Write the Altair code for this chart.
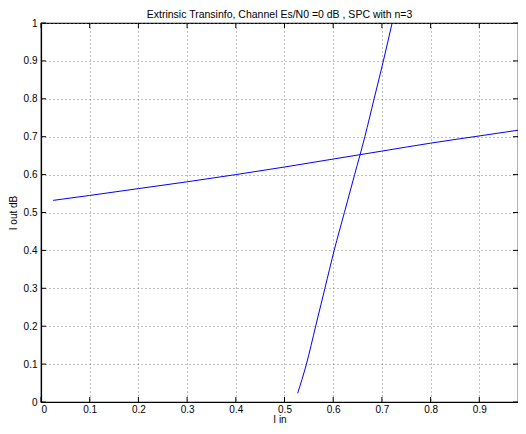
import altair as alt
import pandas as pd

# Data
c1_x = [0.025, 0.1, 0.2, 0.3, 0.4, 0.5, 0.6, 0.7, 0.8, 0.9, 1.0]
c1_y = [0.532, 0.545, 0.563, 0.581, 0.600, 0.620, 0.641, 0.662, 0.683, 0.702, 0.721]

c2_x = [0.527, 0.545, 0.564, 0.583, 0.602, 0.623, 0.644, 0.665, 0.684, 0.703, 0.721, 0.73]
c2_y = [0.023, 0.1, 0.2, 0.3, 0.4, 0.5, 0.6, 0.7, 0.8, 0.9, 1.0, 1.05]

x_ticks = [0, 0.1, 0.2, 0.3, 0.4, 0.5, 0.6, 0.7, 0.8, 0.9]
y_ticks = [0, 0.1, 0.2, 0.3, 0.4, 0.5, 0.6, 0.7, 0.8, 0.9, 1.0]

title = "Extrinsic Transinfo, Channel Es/N0 =0 dB , SPC with n=3"

W, H = 477, 379
XMAX = 477 / 487
FONT = "Liberation Sans"

df = pd.concat([
    pd.DataFrame({"x": c1_x, "y": c1_y, "s": "a", "o": range(len(c1_x))}),
    pd.DataFrame({"x": c2_x, "y": c2_y, "s": "b", "o": range(len(c2_x))}),
])
xt = pd.DataFrame({"v": x_ticks})
yt = pd.DataFrame({"v": y_ticks})

xscale = alt.Scale(domain=[0, XMAX], nice=False, zero=False)
yscale = alt.Scale(domain=[0, 1], nice=False, zero=False)

common = dict(grid=True, ticks=False, labelOverlap=False, labelFont=FONT,
              labelFontSize=10, labelColor="black", titleFont=FONT,
              titleFontSize=10, titleFontWeight="normal", titleColor="black",
              domainColor="black", domainWidth=1.2, gridColor="#7a7a7a",
              gridDash=[1, 3], gridWidth=1, gridOpacity=1, format=".1~f")

xaxis = alt.Axis(values=x_ticks, labelPadding=2, title="I in", titlePadding=0,
                 **common)
yaxis = alt.Axis(values=y_ticks, labelPadding=4, title="I out dB", titlePadding=5,
                 **common)

lines = alt.Chart(df).mark_line(color="#0000ff", strokeWidth=1, clip=True,
                                interpolate="monotone").encode(
    x=alt.X("x:Q", scale=xscale, axis=xaxis),
    y=alt.Y("y:Q", scale=yscale, axis=yaxis),
    detail="s:N",
    order="o:Q",
)

bt = alt.Chart(xt).mark_rule(color="black", strokeWidth=1).encode(
    x=alt.X("v:Q", scale=xscale, axis=xaxis), y=alt.value(H), y2=alt.value(H - 5))
tt = alt.Chart(xt).mark_rule(color="black", strokeWidth=1).encode(
    x=alt.X("v:Q", scale=xscale, axis=xaxis), y=alt.value(0), y2=alt.value(5))
lt = alt.Chart(yt).mark_rule(color="black", strokeWidth=1).encode(
    y=alt.Y("v:Q", scale=yscale, axis=yaxis), x=alt.value(0), x2=alt.value(5))
rt = alt.Chart(yt).mark_rule(color="black", strokeWidth=1).encode(
    y=alt.Y("v:Q", scale=yscale, axis=yaxis), x=alt.value(W - 5), x2=alt.value(W))

chart = alt.layer(lines, bt, tt, lt, rt).properties(
    width=W, height=H,
    title=alt.TitleParams(title, fontSize=10.5, font=FONT, fontWeight="normal",
                          anchor="middle", offset=-2, color="black"),
    autosize=alt.AutoSizeParams(type="none"),
    padding={"left": 33, "top": 15, "right": 0, "bottom": 24},
    background="white",
).configure_view(
    stroke="black", strokeWidth=1.2
)

chart.save("out.html", embed_options={"renderer": "svg", "actions": False})
